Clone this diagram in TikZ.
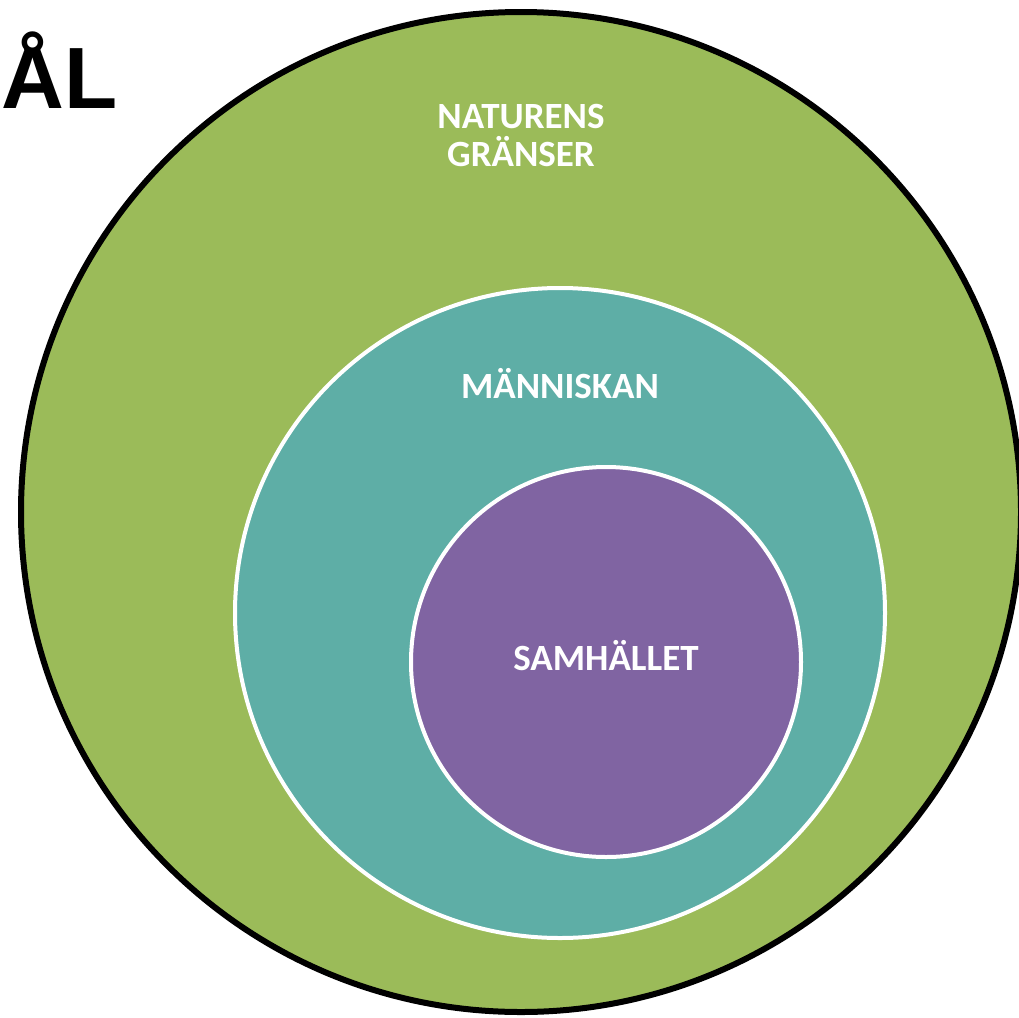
\documentclass[tikz,border=0pt]{standalone}
\usepackage{fontspec}
\setmainfont{Carlito}
\newfontfamily\titlefont{Liberation Sans}
\definecolor{natgreen}{HTML}{9BBB59}
\definecolor{mteal}{HTML}{5EAEA6}
\definecolor{spurple}{HTML}{8064A2}
\begin{document}
\begin{tikzpicture}[x=1pt,y=-1pt,
  lbl/.style={text=white, font=\fontsize{37}{38}\selectfont\bfseries, align=center, inner sep=0pt}]
\useasboundingbox (0,0) rectangle (1019,1017);
\begin{scope}
\clip (0,0) rectangle (1019,1017);
\fill[natgreen, draw=black, line width=6pt] (521,512) circle (500);
\end{scope}
\fill[mteal, draw=white, line width=4pt] (560,613) circle (325);
\fill[spurple, draw=white, line width=4pt] (606,662) circle (195);
\node[anchor=base west, inner sep=0pt, font=\titlefont\fontsize{87}{90}\selectfont\bfseries] (al) at (1,108) {ÅL};
\node[lbl, anchor=base] (nat) at (521,166) {NATURENS\\GRÄNSER};
\node[lbl, anchor=base] (man) at (560,398) {MÄNNISKAN};
\node[lbl, anchor=base] (sam) at (606,670) {SAMHÄLLET};
\end{tikzpicture}
\end{document}
